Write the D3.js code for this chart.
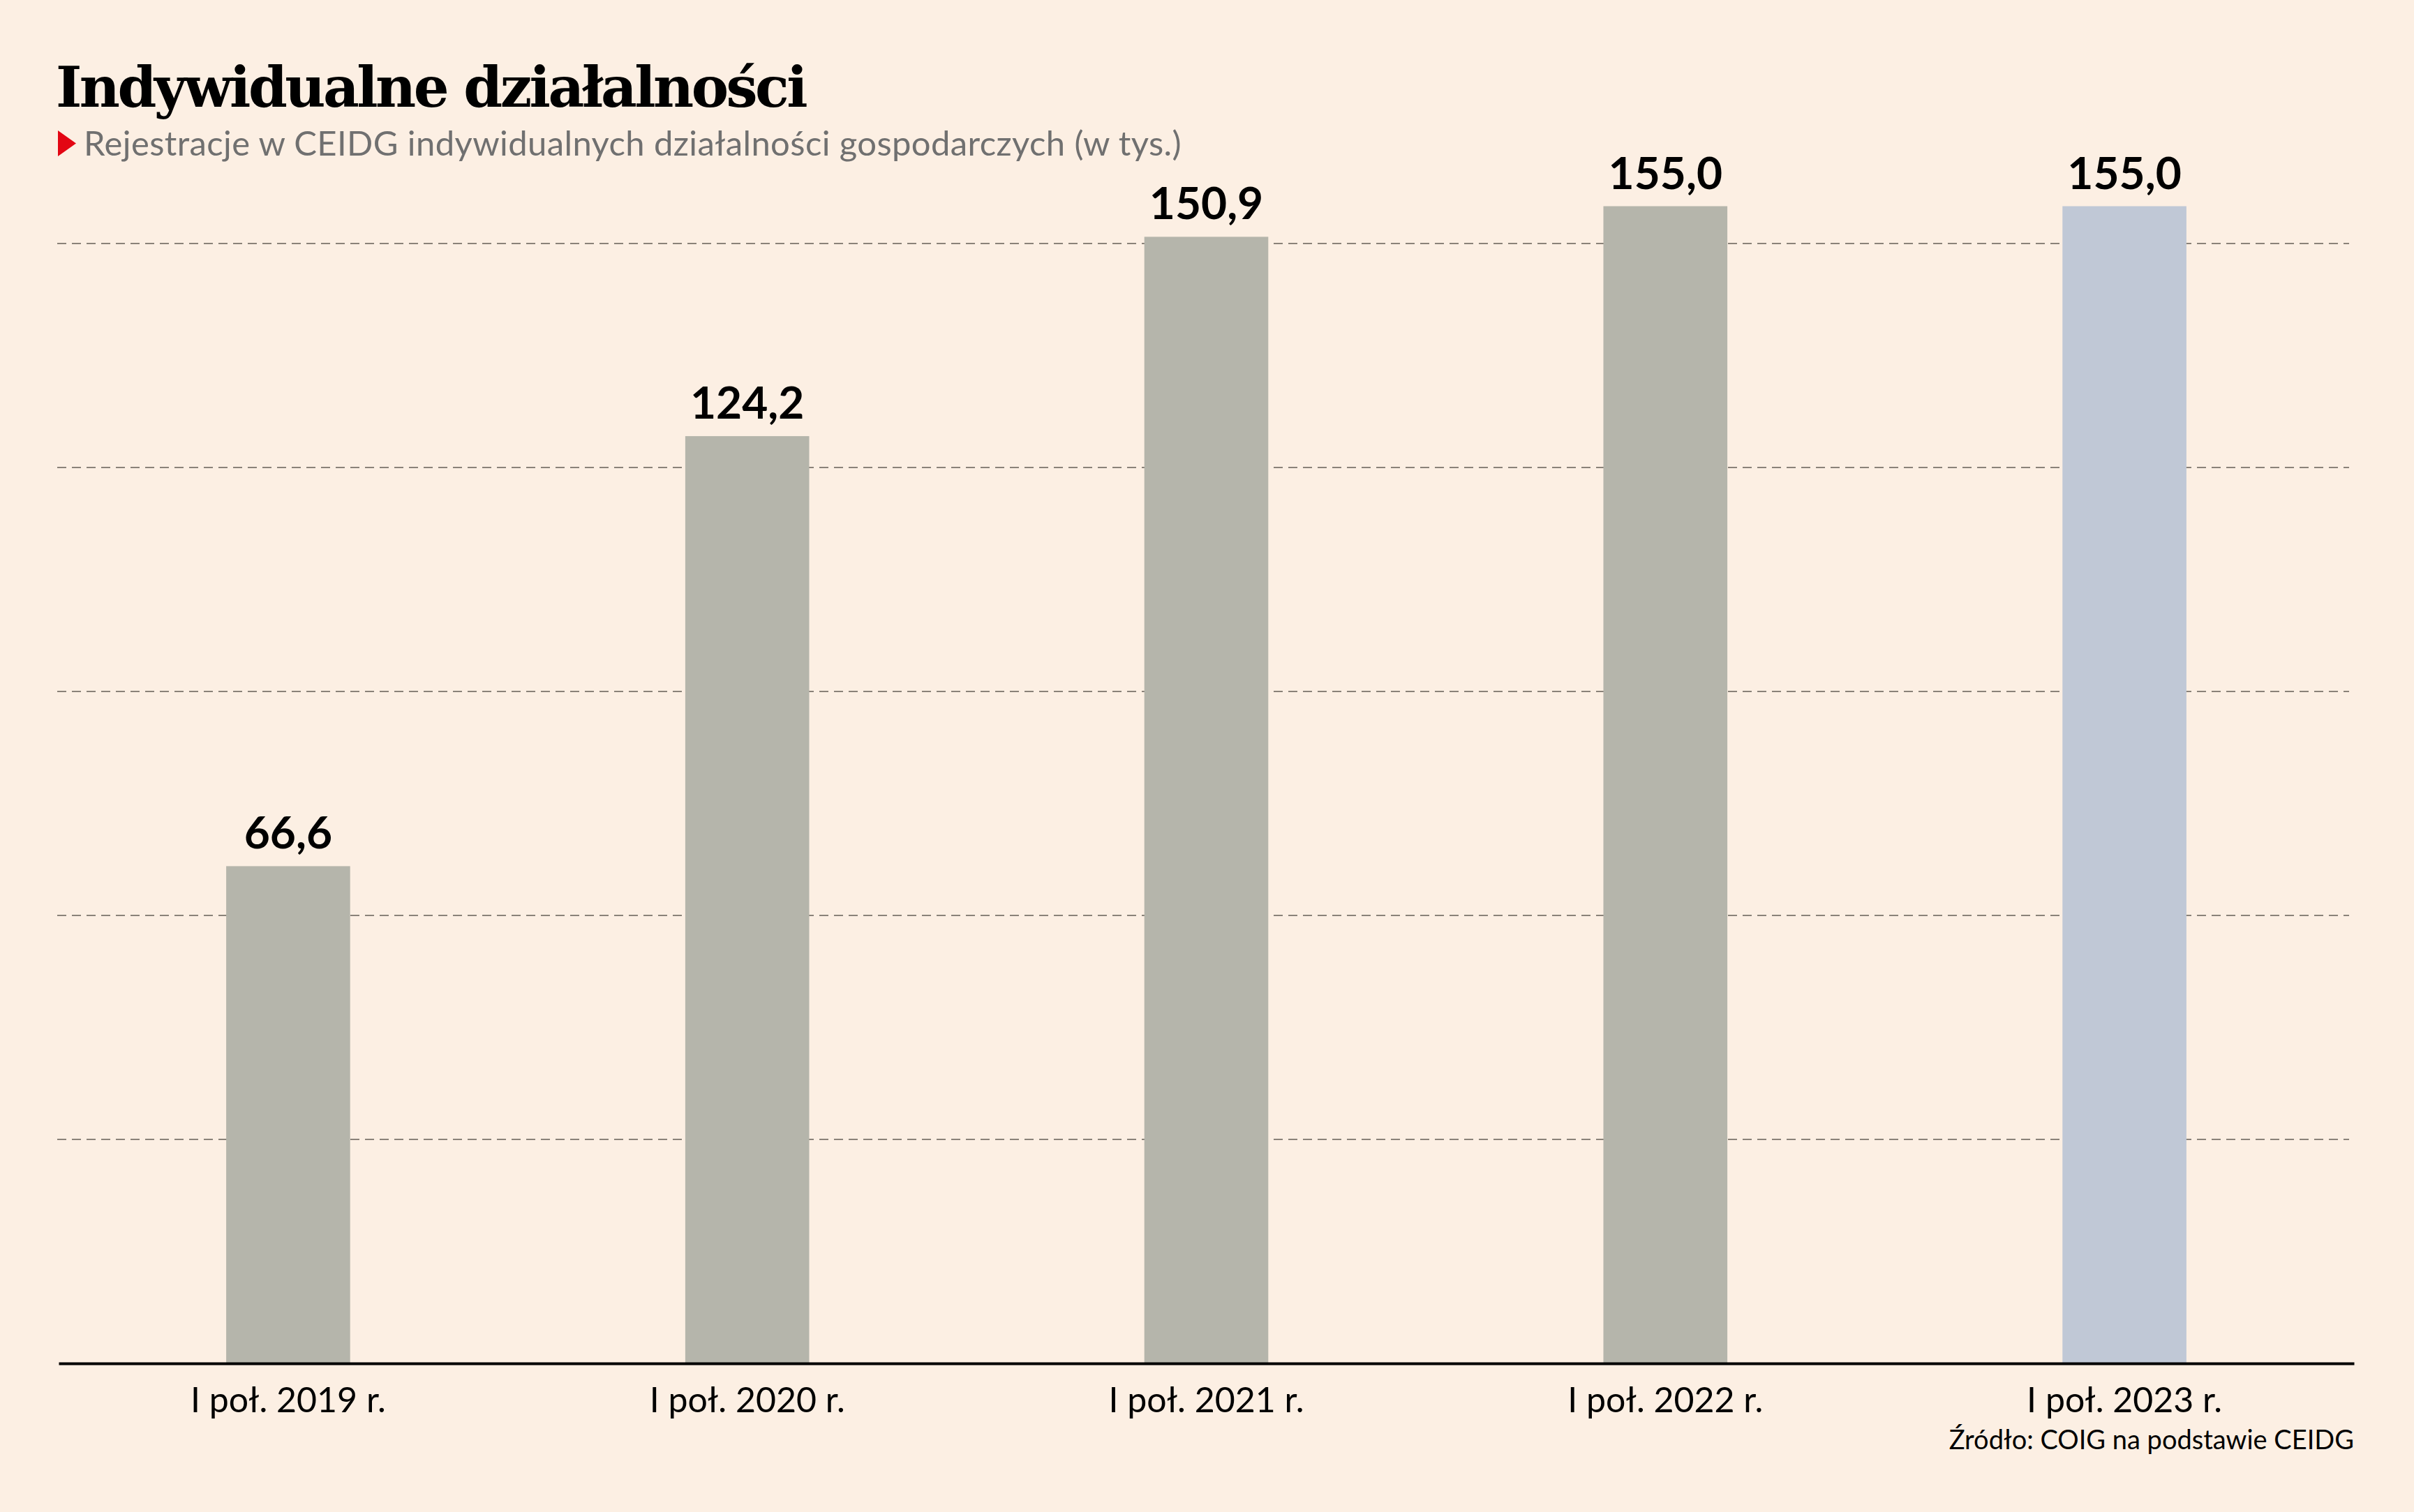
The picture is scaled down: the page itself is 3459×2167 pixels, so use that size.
<!DOCTYPE html>
<html>
<head>
<meta charset="utf-8">
<script src="https://cdn.jsdelivr.net/npm/d3@7"></script>
<style>
  html, body { margin: 0; padding: 0; background: #fcefe3; }
  svg { display: block; }
</style>
</head>
<body>
<div id="chart"></div>
<script>
const categories = ['I poł. 2019 r.', 'I poł. 2020 r.', 'I poł. 2021 r.', 'I poł. 2022 r.', 'I poł. 2023 r.'];
const values = [66.6, 124.2, 150.9, 155.0, 155.0];
const gridTicks = [30, 60, 90, 120, 150];
const barColors = ['#b5b5ab', '#b5b5ab', '#b5b5ab', '#b5b5ab', '#c0c8d6'];

const title = 'Indywidualne działalności';
const subtitle = 'Rejestracje w CEIDG indywidualnych działalności gospodarczych (w tys.)';
const source = 'Źródło: COIG na podstawie CEIDG';

// squeeze/stretch letter spacing so a text spans the given width
function fitWidth(sel, target) {
    const node = sel.node();
    const n = sel.text().length;
    const w = node.getComputedTextLength();
    sel.style('letter-spacing', `${(target - w) / n}px`);
}

function createChart() {
    const W = 3459, H = 2167;
    const margin = { left: 84, right: 86, top: 242, bottom: 213 };
    const width = W - margin.left - margin.right;
    const height = H - margin.top - margin.bottom;

    const svg = d3.select('#chart').append('svg')
        .attr('width', W)
        .attr('height', H);

    svg.append('rect')
        .attr('width', W)
        .attr('height', H)
        .attr('fill', '#fcefe3');

    // Title & subtitle
    const titleText = svg.append('text')
        .attr('x', 80)
        .attr('y', 153)
        .style('font-family', '"DejaVu Serif", serif')
        .style('font-weight', 700)
        .style('font-size', '80px')
        .attr('fill', '#000')
        .text(title);
    fitWidth(titleText, 1074);

    svg.append('path')
        .attr('d', 'M83,187 L109,205.5 L83,224 Z')
        .attr('fill', '#e30613');

    const subText = svg.append('text')
        .attr('x', 120)
        .attr('y', 223)
        .style('font-family', 'Lato, sans-serif')
        .style('font-size', '49px')
        .attr('fill', '#707070')
        .text(subtitle);
    fitWidth(subText, 1573);

    const g = svg.append('g')
        .attr('transform', `translate(${margin.left},${margin.top})`);

    const x = d3.scaleBand()
        .domain(categories)
        .range([0, width])
        .paddingInner(0.73)
        .paddingOuter(0.365);

    const y = d3.scaleLinear()
        .domain([0, 160])
        .range([height, 0]);

    // Dashed grid
    g.selectAll('.grid')
        .data(gridTicks)
        .enter().append('line')
        .attr('class', 'grid')
        .attr('x1', -2)
        .attr('x2', width - 7)
        .attr('y1', d => y(d))
        .attr('y2', d => y(d))
        .attr('stroke', '#8a8279')
        .attr('stroke-width', 2)
        .attr('stroke-dasharray', '13,8');

    // Bars
    g.selectAll('.bar')
        .data(values)
        .enter().append('rect')
        .attr('class', 'bar')
        .attr('x', (d, i) => x(categories[i]))
        .attr('width', x.bandwidth())
        .attr('y', d => y(d))
        .attr('height', d => y(0) - y(d))
        .attr('fill', (d, i) => barColors[i]);

    // Value labels
    g.selectAll('.label')
        .data(values)
        .enter().append('text')
        .attr('class', 'label')
        .attr('x', (d, i) => x(categories[i]) + x.bandwidth() / 2)
        .attr('y', d => y(d) - 25)
        .attr('text-anchor', 'middle')
        .style('font-family', 'Lato, sans-serif')
        .style('font-weight', 700)
        .style('font-size', '64px')
        .attr('fill', '#000')
        .text(d => d.toFixed(1).replace('.', ','));

    // X axis
    const xAxis = g.append('g')
        .attr('transform', `translate(0,${height})`)
        .call(d3.axisBottom(x).tickSize(0).tickPadding(34));

    xAxis.select('.domain')
        .attr('stroke', '#000')
        .attr('stroke-width', 4);

    xAxis.selectAll('text')
        .style('font-family', 'Lato, sans-serif')
        .style('font-size', '50px')
        .attr('fill', '#000');

    // Source
    svg.append('text')
        .attr('x', margin.left + width)
        .attr('y', 2077)
        .attr('text-anchor', 'end')
        .style('font-family', 'Lato, sans-serif')
        .style('font-size', '38px')
        .attr('fill', '#000')
        .text(source);
}

createChart();
</script>
</body>
</html>
